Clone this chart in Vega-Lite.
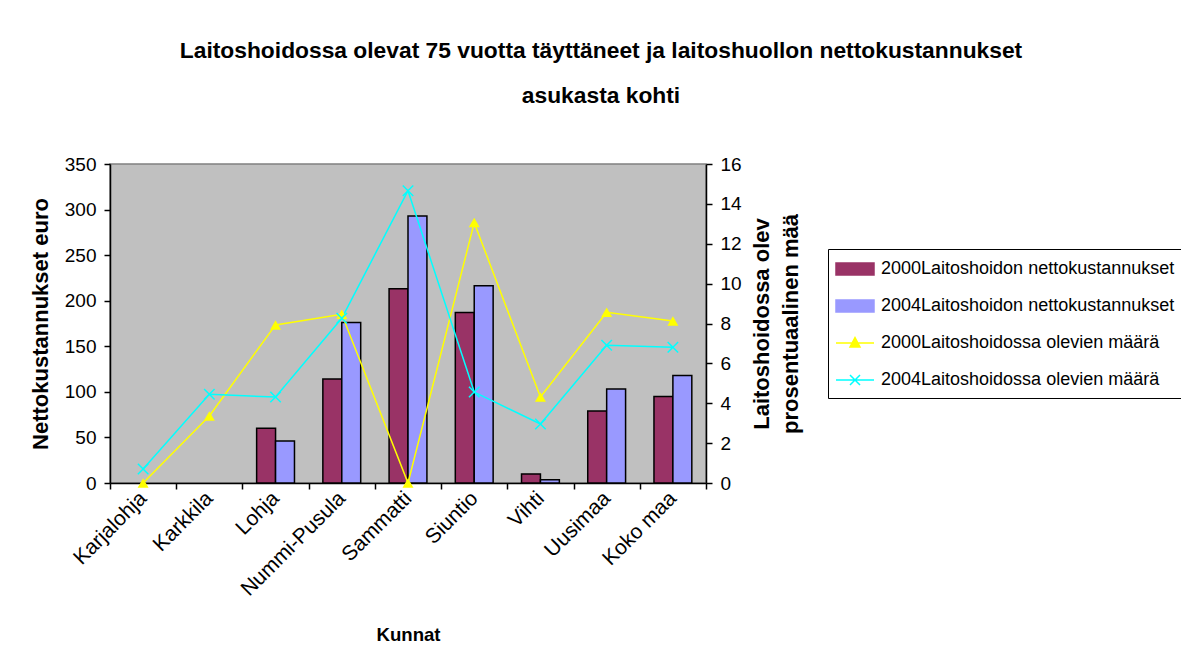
{
  "$schema": "https://vega.github.io/schema/vega-lite/v6.json",
  "width": 596,
  "height": 319,
  "autosize": {"type": "none"},
  "padding": {"left": 110, "top": 164, "right": 475, "bottom": 185},
  "background": "white",
  "config": {
    "font": "Liberation Sans",
    "view": {"fill": "#C0C0C0", "stroke": "#808080", "strokeWidth": 1.5},
    "axis": {
      "domainColor": "black", "domainWidth": 1.5,
      "tickColor": "black", "tickWidth": 1.5, "tickSize": 6,
      "labelColor": "black", "labelFontSize": 19, "labelPadding": 8,
      "titleColor": "black", "titleFontSize": 22, "titleFontWeight": "bold",
      "grid": false
    }
  },
  "title": {
    "text": ["Laitoshoidossa olevat 75 vuotta täyttäneet ja laitoshuollon nettokustannukset", "asukasta kohti"],
    "fontSize": 22.8,
    "fontWeight": "bold",
    "color": "black",
    "anchor": "middle",
    "frame": "group",
    "dx": 193,
    "lineHeight": 45,
    "offset": 47
  },
  "datasets": {
    "kunnat": [
      {"Kunta": "Karjalohja", "sarja": "2000Laitoshoidossa olevien määrä", "arvo": 0},
      {"Kunta": "Karjalohja", "sarja": "2004Laitoshoidossa olevien määrä", "arvo": 0.7},
      {"Kunta": "Karkkila", "sarja": "2000Laitoshoidossa olevien määrä", "arvo": 3.36},
      {"Kunta": "Karkkila", "sarja": "2004Laitoshoidossa olevien määrä", "arvo": 4.45},
      {"Kunta": "Lohja", "sarja": "2000Laitoshoidon nettokustannukset", "arvo": 60},
      {"Kunta": "Lohja", "sarja": "2004Laitoshoidon nettokustannukset", "arvo": 46},
      {"Kunta": "Lohja", "sarja": "2000Laitoshoidossa olevien määrä", "arvo": 7.93},
      {"Kunta": "Lohja", "sarja": "2004Laitoshoidossa olevien määrä", "arvo": 4.31},
      {"Kunta": "Nummi-Pusula", "sarja": "2000Laitoshoidon nettokustannukset", "arvo": 114},
      {"Kunta": "Nummi-Pusula", "sarja": "2004Laitoshoidon nettokustannukset", "arvo": 176},
      {"Kunta": "Nummi-Pusula", "sarja": "2000Laitoshoidossa olevien määrä", "arvo": 8.46},
      {"Kunta": "Nummi-Pusula", "sarja": "2004Laitoshoidossa olevien määrä", "arvo": 8.26},
      {"Kunta": "Sammatti", "sarja": "2000Laitoshoidon nettokustannukset", "arvo": 213},
      {"Kunta": "Sammatti", "sarja": "2004Laitoshoidon nettokustannukset", "arvo": 293},
      {"Kunta": "Sammatti", "sarja": "2000Laitoshoidossa olevien määrä", "arvo": 0},
      {"Kunta": "Sammatti", "sarja": "2004Laitoshoidossa olevien määrä", "arvo": 14.66},
      {"Kunta": "Siuntio", "sarja": "2000Laitoshoidon nettokustannukset", "arvo": 187},
      {"Kunta": "Siuntio", "sarja": "2004Laitoshoidon nettokustannukset", "arvo": 216.5},
      {"Kunta": "Siuntio", "sarja": "2000Laitoshoidossa olevien määrä", "arvo": 13.06},
      {"Kunta": "Siuntio", "sarja": "2004Laitoshoidossa olevien määrä", "arvo": 4.56},
      {"Kunta": "Vihti", "sarja": "2000Laitoshoidon nettokustannukset", "arvo": 10},
      {"Kunta": "Vihti", "sarja": "2004Laitoshoidon nettokustannukset", "arvo": 3.5},
      {"Kunta": "Vihti", "sarja": "2000Laitoshoidossa olevien määrä", "arvo": 4.31},
      {"Kunta": "Vihti", "sarja": "2004Laitoshoidossa olevien määrä", "arvo": 2.96},
      {"Kunta": "Uusimaa", "sarja": "2000Laitoshoidon nettokustannukset", "arvo": 79},
      {"Kunta": "Uusimaa", "sarja": "2004Laitoshoidon nettokustannukset", "arvo": 103},
      {"Kunta": "Uusimaa", "sarja": "2000Laitoshoidossa olevien määrä", "arvo": 8.56},
      {"Kunta": "Uusimaa", "sarja": "2004Laitoshoidossa olevien määrä", "arvo": 6.91},
      {"Kunta": "Koko maa", "sarja": "2000Laitoshoidon nettokustannukset", "arvo": 95},
      {"Kunta": "Koko maa", "sarja": "2004Laitoshoidon nettokustannukset", "arvo": 118},
      {"Kunta": "Koko maa", "sarja": "2000Laitoshoidossa olevien määrä", "arvo": 8.13},
      {"Kunta": "Koko maa", "sarja": "2004Laitoshoidossa olevien määrä", "arvo": 6.81}
    ]
  },
  "data": {"name": "kunnat"},
  "encoding": {
    "x": {
      "field": "Kunta",
      "type": "nominal",
      "sort": ["Karjalohja", "Karkkila", "Lohja", "Nummi-Pusula", "Sammatti", "Siuntio", "Vihti", "Uusimaa", "Koko maa"],
      "scale": {"paddingInner": 0, "paddingOuter": 0},
      "axis": {
        "title": "Kunnat",
        "titleFontSize": 18.6,
        "titlePadding": 26,
        "labelAngle": -45,
        "labelAlign": "right",
        "labelBaseline": "middle",
        "labelFontSize": 21,
        "tickBand": "extent",
        "labelPadding": 6
      }
    }
  },
  "layer": [
    {
      "transform": [{"filter": {"field": "sarja", "oneOf": ["2000Laitoshoidon nettokustannukset", "2004Laitoshoidon nettokustannukset"]}}],
      "mark": {"type": "bar", "stroke": "black", "strokeWidth": 1.5},
      "encoding": {
        "xOffset": {
          "field": "sarja",
          "type": "nominal",
          "sort": ["2000Laitoshoidon nettokustannukset", "2004Laitoshoidon nettokustannukset"],
          "scale": {"paddingInner": 0, "paddingOuter": 0.75}
        },
        "y": {
          "field": "arvo",
          "type": "quantitative",
          "scale": {"domain": [0, 350], "nice": false},
          "axis": {"title": "Nettokustannukset euro", "values": [0, 50, 100, 150, 200, 250, 300, 350], "titlePadding": 12}
        },
        "color": {
          "field": "sarja",
          "type": "nominal",
          "scale": {
            "domain": ["2000Laitoshoidon nettokustannukset", "2004Laitoshoidon nettokustannukset", "2000Laitoshoidossa olevien määrä", "2004Laitoshoidossa olevien määrä"],
            "range": ["#993366", "#9999FF", "#FFFF00", "#00FFFF"]
          },
          "legend": {
            "title": null,
            "orient": "none",
            "legendX": 718,
            "legendY": 85,
            "strokeColor": "black",
            "fillColor": "white",
            "padding": 9,
            "rowPadding": 17,
            "symbolSize": 400,
            "symbolOffset": 7,
            "labelOffset": 15,
            "labelFontSize": 18,
            "labelColor": "black",
            "labelLimit": 1000,
            "encoding": {
              "symbols": {
                "shape": {"value": {"signal": "indexof(datum.value, 'nettokustannukset') >= 0 ? 'M-1.9,-0.6H1.9V0.6H-1.9Z' : (indexof(datum.value, '2000') == 0 ? 'M-1.9,0H1.9M0,-0.55L0.5,0.4L-0.5,0.4Z' : 'M-1.9,0H1.9M-0.5,-0.5L0.5,0.5M-0.5,0.5L0.5,-0.5')"}},
                "fill": {"value": {"signal": "indexof(datum.value, 'nettokustannukset') >= 0 ? (indexof(datum.value, '2000') == 0 ? '#993366' : '#9999FF') : (indexof(datum.value, '2000') == 0 ? '#FFFF00' : 'transparent')"}},
                "stroke": {"value": {"signal": "indexof(datum.value, 'nettokustannukset') >= 0 ? 'black' : (indexof(datum.value, '2000') == 0 ? '#FFFF00' : '#00FFFF')"}},
                "strokeWidth": {"value": 1.5},
                "opacity": {"value": 1},
                "fillOpacity": {"value": 1},
                "strokeOpacity": {"value": 1}
              }
            }
          }
        }
      }
    },
    {
      "transform": [{"filter": {"field": "sarja", "oneOf": ["2000Laitoshoidossa olevien määrä", "2004Laitoshoidossa olevien määrä"]}}],
      "encoding": {
        "y": {
          "field": "arvo",
          "type": "quantitative",
          "scale": {"domain": [0, 16], "nice": false},
          "axis": {
            "orient": "right",
            "values": [0, 2, 4, 6, 8, 10, 12, 14, 16],
            "title": ["Laitoshoidossa olev", "prosentuaalinen mää"],
            "titleAngle": 270,
            "titleLineHeight": 29,
            "titlePadding": 3
          }
        }
      },
      "layer": [
        {
          "mark": {"type": "line", "strokeWidth": 1.5},
          "encoding": {"color": {"field": "sarja", "type": "nominal", "legend": null}}
        },
        {
          "transform": [{"filter": {"field": "sarja", "equal": "2000Laitoshoidossa olevien määrä"}}],
          "mark": {"type": "point", "shape": "triangle-up", "filled": true, "color": "#FFFF00", "size": 120, "opacity": 1}
        },
        {
          "transform": [{"filter": {"field": "sarja", "equal": "2004Laitoshoidossa olevien määrä"}}],
          "mark": {"type": "point", "shape": "M-1,-1L1,1M-1,1L1,-1", "filled": false, "color": "#00FFFF", "size": 110, "strokeWidth": 1.5, "opacity": 1}
        }
      ]
    }
  ],
  "resolve": {"scale": {"y": "independent"}}
}
